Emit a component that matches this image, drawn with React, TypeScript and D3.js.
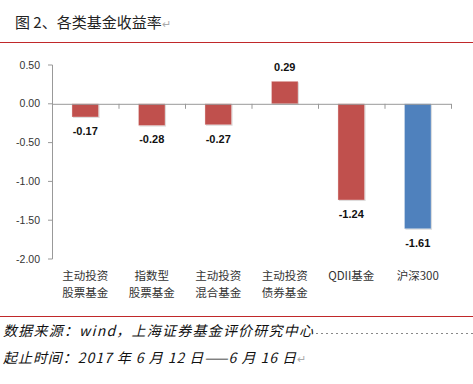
import React from "react";
import * as d3 from "d3";

const categories = [["主动投资", "股票基金"], ["指数型", "股票基金"], ["主动投资", "混合基金"], ["主动投资", "债券基金"], ["QDII基金"], ["沪深300"]];
const values = [-0.17, -0.28, -0.27, 0.29, -1.24, -1.61];
const barColors = ["#C0504D", "#C0504D", "#C0504D", "#C0504D", "#C0504D", "#4F81BD"];
const yTicks = [0.5, 0, -0.5, -1, -1.5, -2];

const fmt = d3.formatLocale({ decimal: ".", thousands: ",", grouping: [3], currency: ["", ""], minus: "-" }).format(".2f");

export default function App() {
  const W = 473, H = 384;
  const x = d3.scaleBand<number>().domain(d3.range(values.length)).range([52, 451]).paddingInner(0.6).paddingOuter(0.3);
  const y = d3.scaleLinear().domain([-2, 0.5]).range([259, 65]);
  const bandEdges = d3.range(values.length + 1).map((i) => 52 + (i * (451 - 52)) / values.length);
  const cjk = "'Noto Sans CJK SC', sans-serif";
  return (
    <svg width={W} height={H} style={{ position: "absolute", left: 0, top: 0, background: "#fff" }}>
      <text x={15} y={28} fontFamily={cjk} fontSize={15} fill="#222">图 2、各类基金收益率<tspan fill="#aaa" fontSize={11}>↵</tspan></text>
      <line x1={0} x2={W} y1={42.5} y2={42.5} stroke="#C0282A" strokeWidth={1.2} />
      {/* y axis */}
      <line x1={52.5} x2={52.5} y1={y(0.5)} y2={y(-2)} stroke="#999" />
      {yTicks.map((t) => (
        <g key={t}>
          <line x1={48} x2={52.5} y1={y(t)} y2={y(t)} stroke="#999" />
          <text x={40} y={y(t)} dy="0.35em" textAnchor="end" fontFamily="'Liberation Sans', Arial, sans-serif" fontSize={10.5} fill="#333">{fmt(t)}</text>
        </g>
      ))}
      {/* bars */}
      {values.map((v, i) => {
        const x0 = x(i)!;
        const y0 = y(Math.max(0, v));
        const h = Math.abs(y(v) - y(0));
        return (
          <g key={i}>
            <rect x={x0 + 1} y={y0 + 1} width={x.bandwidth()} height={h} fill="#d8d8d8" />
            <rect x={x0} y={y0} width={x.bandwidth()} height={h} fill={barColors[i]} stroke="#fff" strokeOpacity={0.35} />
            <text x={x0 + x.bandwidth() / 2} y={v < 0 ? y(v) + 14 : y(v) - 14} dy="0.35em" textAnchor="middle" fontFamily="'Liberation Sans', Arial, sans-serif" fontWeight="bold" fontSize={11} fill="#111">{fmt(v)}</text>
          </g>
        );
      })}
      {/* x axis */}
      <line x1={52} x2={451} y1={y(0) + 0.5} y2={y(0) + 0.5} stroke="#999" />
      {bandEdges.map((e, i) => (
        <line key={i} x1={e + 0.5} x2={e + 0.5} y1={y(0)} y2={y(0) + 5} stroke="#999" />
      ))}
      {categories.map((c, i) => (
        <text key={i} x={x(i)! + x.bandwidth() / 2} textAnchor="middle" fontFamily={cjk} fontSize={11.5} fill="#333">
          {c.map((line, j) => (
            <tspan key={j} x={x(i)! + x.bandwidth() / 2} y={280 + j * 17}>{line}</tspan>
          ))}
        </text>
      ))}
      <line x1={0} x2={W} y1={316.5} y2={316.5} stroke="#C0282A" strokeWidth={1.2} />
      <text x={3} y={336} fontFamily={cjk} fontStyle="italic" fontSize={14} fill="#111" textLength={310}>数据来源：wind，上海证券基金评价研究中心</text>
      <line x1={316} x2={W} y1={333.5} y2={333.5} stroke="#888" strokeDasharray="2,3" />
      <text x={3} y={363} fontFamily={cjk} fontStyle="italic" fontSize={14} fill="#111"><tspan textLength={293}>起止时间：2017 年 6 月 12 日——6 月 16 日</tspan><tspan fill="#aaa" fontSize={11} fontStyle="normal">↵</tspan></text>
    </svg>
  );
}
